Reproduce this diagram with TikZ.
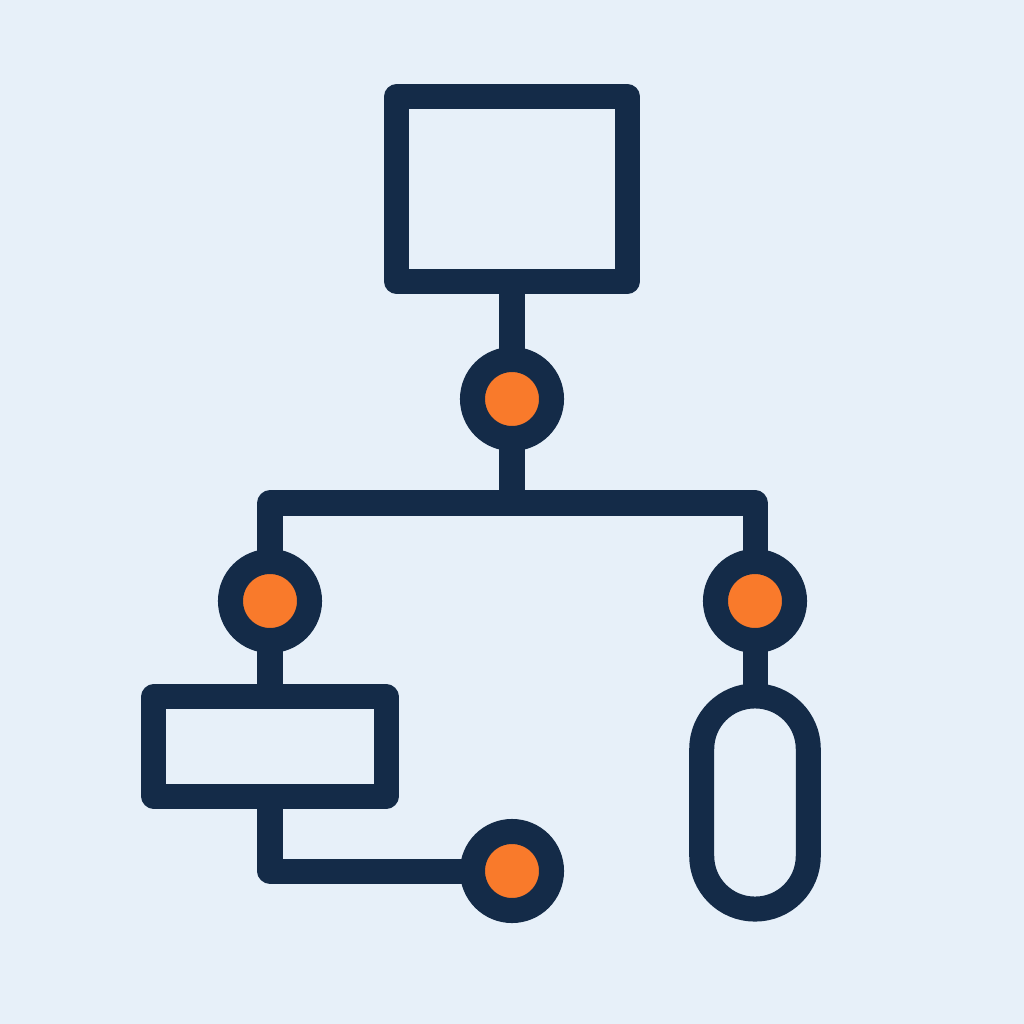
\documentclass[tikz,border=0pt]{standalone}
\usepackage{tikz}
\definecolor{bgblue}{HTML}{E7F0F9}
\definecolor{navy}{HTML}{142B48}
\definecolor{dotorange}{HTML}{F97A2B}

\begin{document}
\begin{tikzpicture} [x=0.01cm,y=-0.01cm,
  wire/.style={navy,line width=0.25cm,line join=round},
  block/.style={draw=navy,line width=0.25cm,line join=round,inner sep=0,outer sep=0},
  junction/.style={circle,draw=navy,fill=dotorange,line width=0.25cm,inner sep=0,outer sep=0,minimum size=0.79cm}]

\fill[bgblue] (0,0) rectangle (1024,1024);

\node[block,minimum width=2.30cm,minimum height=1.85cm] (top) at (512,189) {};
\node[junction] (j1) at (512,399) {};
\coordinate (bar) at (512,503);
\node[junction] (j2) at (270,601) {};
\node[junction] (j3) at (755,601) {};
\node[block,minimum width=2.32cm,minimum height=0.99cm] (box) at (270,746.5) {};
\node[junction] (j4) at (512,871) {};
\node[block,rounded corners=0.53cm,minimum width=1.065cm,minimum height=2.13cm] (pill) at (755,802.5) {};

\draw[wire] (top.south)--(j1.north);
\draw[wire] (j1.south)--(bar);
\draw[wire] (j2.north)--(j2.north |- bar)--(j3.north |- bar)--(j3.north);
\draw[wire] (j2.south)--(box.north);
\draw[wire] (j3.south)--(pill.north);
\draw[wire] (box.south)--(box.south |- j4)--(j4.west);

\end{tikzpicture}
\end{document}
